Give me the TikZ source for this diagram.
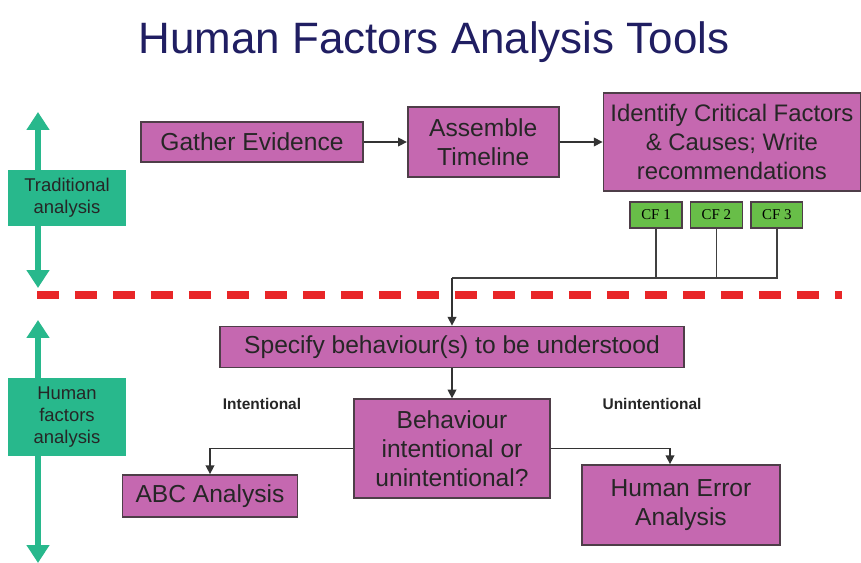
\documentclass[tikz,border=0pt]{standalone}
\usepackage{fontspec}
\setmainfont{Liberation Sans}
\newfontfamily\cffont{Liberation Serif}
\usepackage{tikz}
\usetikzlibrary{arrows.meta,positioning}
\definecolor{orchid}{RGB}{197,104,176}
\definecolor{boxline}{RGB}{78,62,72}
\definecolor{seagreen}{RGB}{40,184,140}
\definecolor{leaf}{RGB}{104,190,72}
\definecolor{navyink}{RGB}{32,30,98}
\definecolor{redline}{RGB}{232,38,40}
\tikzset{
  box/.style={draw=boxline,line width=1pt,fill=orchid,align=center,text=black!85,font=\fontsize{14}{16.5}\selectfont,inner sep=1pt},
  band/.style={fill=seagreen,align=center,text=black!85,font=\fontsize{10.5}{12.5}\selectfont,minimum width=2.36cm,inner sep=1pt},
  cf/.style={draw=boxline,line width=0.8pt,fill=leaf,font=\cffont\fontsize{8.5}{10}\selectfont,minimum width=1.04cm,minimum height=0.52cm,inner sep=0pt},
  tag/.style={font=\bfseries\fontsize{8.8}{10}\selectfont,text=black!85},
  arr/.style={-{Triangle[length=5pt,width=5pt]},draw=black!80,line width=0.8pt},
  link/.style={draw=black!75,line width=0.9pt},
  side/.style={{Triangle[length=0.36cm,width=0.44cm]}-{Triangle[length=0.36cm,width=0.44cm]},draw=seagreen,line width=3.4pt},
  divider/.style={draw=redline,line width=4pt,dash pattern=on 0.44cm off 0.32cm},
}
\begin{document}
\begin{tikzpicture}[x=0.02cm,y=-0.02cm,node distance=0.86cm]
  \useasboundingbox[fill=white] (0,0) rectangle (861,563);
  \node[font=\fontsize{25}{30}\selectfont,text=navyink] (title) at (434,42) {Human Factors Analysis Tools};
  % upper half: traditional analysis
  \node[box,minimum width=4.44cm,minimum height=0.8cm] (gather) at (252,142) {Gather Evidence};
  \node[box,right=of gather,minimum width=3.02cm,minimum height=1.4cm] (timeline) {Assemble\\Timeline};
  \node[box,right=of timeline,minimum width=5.14cm,minimum height=1.96cm,font=\fontsize{13.6}{16.5}\selectfont] (identify) {Identify Critical Factors\\\& Causes; Write\\recommendations};
  \node[cf] (cf1) at (656,215) {CF 1};
  \node[cf,right=0.14cm of cf1] (cf2) {CF 2};
  \node[cf,right=0.14cm of cf2] (cf3) {CF 3};
  \coordinate (bus) at (452,278);
  % divider between the two halves
  \coordinate (sepL) at (37,295);
  \coordinate (sepR) at (842,295);
  \draw[divider] (sepL) -- (sepR);
  % lower half: human factors analysis
  \node[box,minimum width=9.28cm,minimum height=0.82cm] (specify) at (452,347) {Specify behaviour(s) to be understood};
  \node[box,below=0.6cm of specify,minimum width=3.92cm,minimum height=1.98cm] (behaviour) {Behaviour\\intentional or\\unintentional?};
  \node[box,minimum width=3.5cm,minimum height=0.84cm] (abc) at (210,496) {ABC Analysis};
  \node[box,minimum width=3.96cm,minimum height=1.6cm] (hea) at (681,505) {Human Error\\Analysis};
  \node[tag] (intent) at (262,404) {Intentional};
  \node[tag] (unintent) at (652,404) {Unintentional};
  % side bands
  \coordinate (tradtop) at (38,112);
  \coordinate (tradbot) at (38,288);
  \coordinate (hftop) at (38,320);
  \coordinate (hfbot) at (38,563);
  \draw[side] (tradtop) -- (tradbot);
  \draw[side] (hftop) -- (hfbot);
  \node[band,minimum height=1.14cm] (trad) at (67,198) {Traditional\\analysis};
  \node[band,minimum height=1.58cm] (hf) at (67,417) {Human\\factors\\analysis};
  % connectors
  \foreach \a/\b in {gather/timeline,timeline/identify,specify/behaviour}{\draw[arr] (\a) -- (\b);}
  \foreach \c in {cf1,cf2,cf3}{\draw[link] (\c.south) |- (bus);}
  \draw[arr] (bus) -- (bus |- specify.north);
  \draw[arr] (behaviour.west) -| (abc.north);
  \draw[arr] (behaviour.east) -| ([xshift=-0.22cm]hea.north);
\end{tikzpicture}
\end{document}
